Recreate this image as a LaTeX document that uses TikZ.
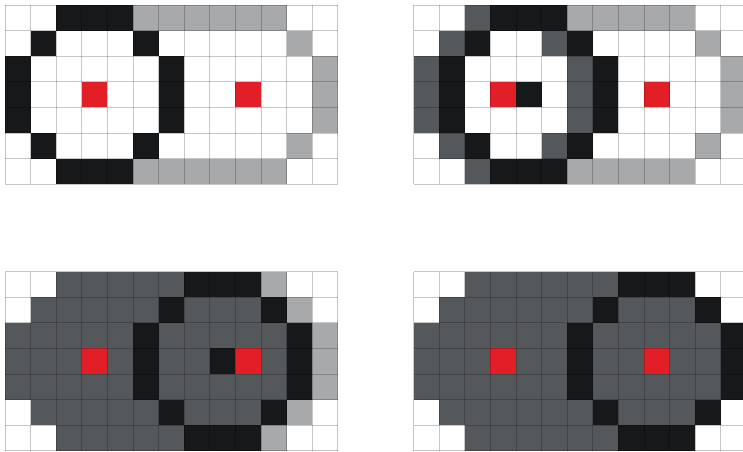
\documentclass[tikz,border=0pt]{standalone}
\usepackage{tikz}

\definecolor{pixblack}{HTML}{16181A}
\definecolor{pixdark}{HTML}{55585B}
\definecolor{pixlight}{HTML}{A8A9AB}
\definecolor{pixred}{HTML}{E21F26}

\newcommand{\pixelrows}[1]{%
  \foreach \rowlist [count=\rw from 0] in {#1}
    \foreach \cellc [count=\cl from 0] in \rowlist
      \fill[c\cellc] (\cl*25.6,\rw*25.6) rectangle ++(25.6,25.6);
  \foreach \i in {0,...,13} \draw[gridline] (\i*25.6,0) -- ++(0,179.2);
  \foreach \j in {0,...,7} \draw[gridline] (0,\j*25.6) -- ++(332.8,0);
}

\begin{document}
\begin{tikzpicture}[
  x=1pt, y=-1pt,
  cW/.style={fill=white},
  cK/.style={fill=pixblack},
  cD/.style={fill=pixdark},
  cL/.style={fill=pixlight},
  cR/.style={fill=pixred},
  gridline/.style={draw=black, draw opacity=0.22, line width=0.8pt}
]
  \clip (0,0) rectangle (743,451);
  \fill[white] (0,0) rectangle (743,451);

  \begin{scope}[shift={(5,5)}]
    \pixelrows{{W,W,K,K,K,L,L,L,L,L,L,W,W},
               {W,K,W,W,W,K,W,W,W,W,W,L,W},
               {K,W,W,W,W,W,K,W,W,W,W,W,L},
               {K,W,W,R,W,W,K,W,W,R,W,W,L},
               {K,W,W,W,W,W,K,W,W,W,W,W,L},
               {W,K,W,W,W,K,W,W,W,W,W,L,W},
               {W,W,K,K,K,L,L,L,L,L,L,W,W}}
  \end{scope}

  \begin{scope}[shift={(413.5,5)}]
    \pixelrows{{W,W,D,K,K,K,L,L,L,L,L,W,W},
               {W,D,K,W,W,D,K,W,W,W,W,L,W},
               {D,K,W,W,W,W,D,K,W,W,W,W,L},
               {D,K,W,R,K,W,D,K,W,R,W,W,L},
               {D,K,W,W,W,W,D,K,W,W,W,W,L},
               {W,D,K,W,W,D,K,W,W,W,W,L,W},
               {W,W,D,K,K,K,L,L,L,L,L,W,W}}
  \end{scope}

  \begin{scope}[shift={(5,271.5)}]
    \pixelrows{{W,W,D,D,D,D,D,K,K,K,L,W,W},
               {W,D,D,D,D,D,K,D,D,D,K,L,W},
               {D,D,D,D,D,K,D,D,D,D,D,K,L},
               {D,D,D,R,D,K,D,D,K,R,D,K,L},
               {D,D,D,D,D,K,D,D,D,D,D,K,L},
               {W,D,D,D,D,D,K,D,D,D,K,L,W},
               {W,W,D,D,D,D,D,K,K,K,L,W,W}}
  \end{scope}

  \begin{scope}[shift={(413.5,271.5)}]
    \pixelrows{{W,W,D,D,D,D,D,D,K,K,K,W,W},
               {W,D,D,D,D,D,D,K,D,D,D,K,W},
               {D,D,D,D,D,D,K,D,D,D,D,D,K},
               {D,D,D,R,D,D,K,D,D,R,D,D,K},
               {D,D,D,D,D,D,K,D,D,D,D,D,K},
               {W,D,D,D,D,D,D,K,D,D,D,K,W},
               {W,W,D,D,D,D,D,D,K,K,K,W,W}}
  \end{scope}
\end{tikzpicture}
\end{document}
